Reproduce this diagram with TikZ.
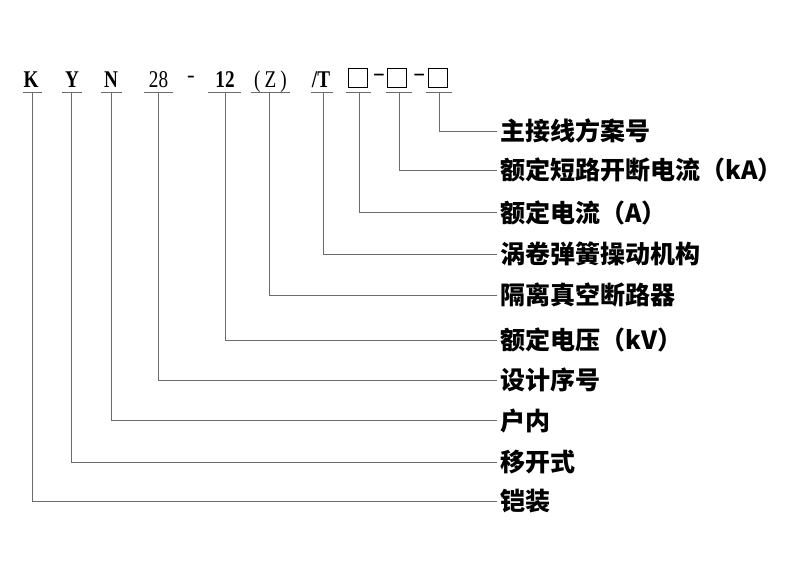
\documentclass[tikz,border=0pt]{standalone}
\usepackage{fontspec}
\newfontfamily\cjk{Noto Sans CJK SC}
\newfontfamily\hdr[FakeStretch=0.8]{Liberation Serif}
\newfontfamily\hdrplain{Liberation Serif}
\begin{document}
\begin{tikzpicture}[x=1pt,y=-1pt,
  conn/.style={draw=black!58,line width=0.9pt},
  uline/.style={draw=black!58,line width=0.9pt},
  hdrtext/.style={anchor=base,inner sep=0pt,font=\hdr\fontsize{24}{24}\selectfont},
  hdrbold/.style={hdrtext,font=\hdr\bfseries\fontsize{24}{24}\selectfont},
  sqbox/.style={draw=black,line width=1.2pt,minimum width=19pt,minimum height=19pt,inner sep=0pt},
  dashtext/.style={inner sep=0pt,font=\hdrplain\fontsize{23}{23}\selectfont},
  label/.style={anchor=west,inner sep=0pt,font=\cjk\bfseries\fontsize{25}{25}\selectfont}
]
\useasboundingbox (0,0) rectangle (800,565);
\fill[white] (0,0) rectangle (800,565);

% header
\node[hdrbold] (hK) at (31,87) {K};
\node[hdrbold] (hY) at (72,87) {Y};
\node[hdrbold] (hN) at (111,87) {N};
\node[hdrtext] (h28) at (158.5,87) {28};
\node[dashtext] (hd0) at (191,79) {-};
\node[hdrbold] (h12) at (225,87) {12};
\node[hdrtext] (hZ) at (270.5,87) {(\,Z\,)};
\node[hdrbold] (hT) at (321,87) {/T};
\node[sqbox] (b1) at (358.3,77.7) {};
\node[dashtext] (hd1) at (379,77.5) {\scalebox{1.6}[1]{-}};
\node[sqbox] (b2) at (397.3,77.7) {};
\node[dashtext] (hd2) at (419.3,77.5) {\scalebox{1.6}[1]{-}};
\node[sqbox] (b3) at (438,77.7) {};

% underline anchor points
\coordinate (uK) at (32.7,92.7);
\coordinate (uY) at (71.7,92.7);
\coordinate (uN) at (111.7,92.7);
\coordinate (u28) at (158.3,92.7);
\coordinate (u12) at (225,92.7);
\coordinate (uZ) at (269.3,92.7);
\coordinate (uT) at (323.3,92.7);
\coordinate (ub1) at (359,92.7);
\coordinate (ub2) at (399,92.7);
\coordinate (ub3) at (439,92.7);

\draw[uline] (22.7,92.7) -- (42.3,92.7);
\draw[uline] (62,92.7) -- (81.7,92.7);
\draw[uline] (101,92.7) -- (122,92.7);
\draw[uline] (144,92.7) -- (173,92.7);
\draw[uline] (208,92.7) -- (241,92.7);
\draw[uline] (251,92.7) -- (290,92.7);
\draw[uline] (311,92.7) -- (333,92.7);
\draw[uline] (346,92.7) -- (370.7,92.7);
\draw[uline] (386,92.7) -- (412,92.7);
\draw[uline] (426,92.7) -- (452,92.7);

% labels
\node[label] (l1) at (500,131) {主接线方案号};
\node[label] (l2) at (500,170) {额定短路开断电流（kA）};
\node[label] (l3) at (500,212.7) {额定电流（A）};
\node[label] (l4) at (500,254.3) {涡卷弹簧操动机构};
\node[label] (l5) at (500,295) {隔离真空断路器};
\node[label] (l6) at (500,340.3) {额定电压（kV）};
\node[label] (l7) at (500,380.3) {设计序号};
\node[label] (l8) at (500,420.7) {户内};
\node[label] (l9) at (500,462.3) {移开式};
\node[label] (l10) at (500,501) {铠装};

% connectors
\draw[conn] (ub3) |- ([xshift=-3pt]l1.west);
\draw[conn] (ub2) |- ([xshift=-3pt]l2.west);
\draw[conn] (ub1) |- ([xshift=-3pt]l3.west);
\draw[conn] (uT) |- ([xshift=-3pt]l4.west);
\draw[conn] (uZ) |- ([xshift=-3pt]l5.west);
\draw[conn] (u12) |- ([xshift=-3pt]l6.west);
\draw[conn] (u28) |- ([xshift=-3pt]l7.west);
\draw[conn] (uN) |- ([xshift=-3pt]l8.west);
\draw[conn] (uY) |- ([xshift=-3pt]l9.west);
\draw[conn] (uK) |- ([xshift=-3pt]l10.west);
\end{tikzpicture}
\end{document}
